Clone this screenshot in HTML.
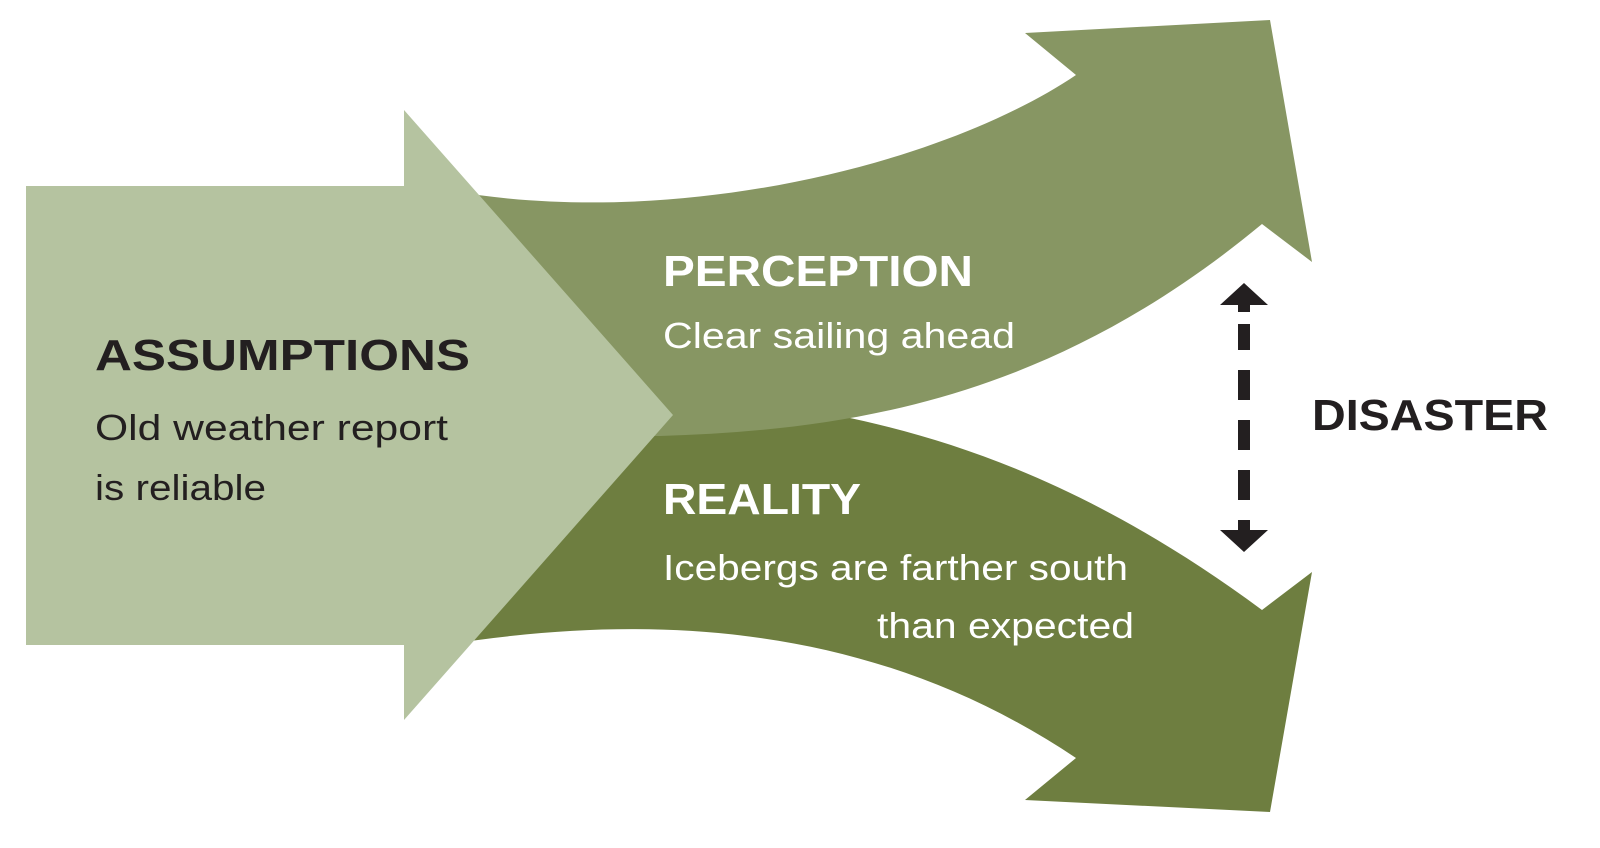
<!DOCTYPE html>
<html><head><meta charset="utf-8"><style>html,body{margin:0;padding:0;background:#fff}svg{display:block}</style></head>
<body>
<svg width="1600" height="848" viewBox="0 0 1600 848" xmlns="http://www.w3.org/2000/svg">
<path d="M440,645 L478,640 C700,610 900,640 1076,758 L1025,800 L1270,812 L1312,572 L1262,610 C1100,490 960,440 840,416 L620,436 Z" fill="#6e7e40"/>
<path d="M440,190 L478,195 C700,225 950,160 1076,75 L1025,33 L1270,20 L1312,262 L1262,224 C1050,400 850,430 660,436 L600,436 Z" fill="#879663"/>
<path d="M26,186 L404,186 L404,110 L673,415 L404,720 L404,645 L26,645 Z" fill="#b5c3a0"/>
<g fill="#231f20">
<polygon points="1220,305 1244,283 1268,305 1250,305 1250,312 1238,312 1238,305"/>
<rect x="1238" y="324" width="12" height="26"/>
<rect x="1238" y="370" width="12" height="30"/>
<rect x="1238" y="420" width="12" height="30"/>
<rect x="1238" y="470" width="12" height="30"/>
<polygon points="1220,530 1244,552 1268,530 1250,530 1250,520 1238,520 1238,530"/>
</g>
<g font-family="Liberation Sans, sans-serif">
<text x="95" y="370" font-size="44" font-weight="bold" fill="#231f20" textLength="375" lengthAdjust="spacingAndGlyphs">ASSUMPTIONS</text>
<text x="95" y="440" font-size="36" fill="#231f20" textLength="353" lengthAdjust="spacingAndGlyphs">Old weather report</text>
<text x="95" y="500" font-size="36" fill="#231f20" textLength="171" lengthAdjust="spacingAndGlyphs">is reliable</text>
<text x="663" y="286" font-size="44" font-weight="bold" fill="#fff" textLength="310" lengthAdjust="spacingAndGlyphs">PERCEPTION</text>
<text x="663" y="348" font-size="36" fill="#fff" textLength="352" lengthAdjust="spacingAndGlyphs">Clear sailing ahead</text>
<text x="663" y="514" font-size="44" font-weight="bold" fill="#fff" textLength="198" lengthAdjust="spacingAndGlyphs">REALITY</text>
<text x="663" y="580" font-size="36" fill="#fff" textLength="465" lengthAdjust="spacingAndGlyphs">Icebergs are farther south</text>
<text x="877" y="638" font-size="36" fill="#fff" textLength="257" lengthAdjust="spacingAndGlyphs">than expected</text>
<text x="1312" y="430" font-size="44" font-weight="bold" fill="#231f20" textLength="236" lengthAdjust="spacingAndGlyphs">DISASTER</text>
</g>
</svg>
</body></html>
